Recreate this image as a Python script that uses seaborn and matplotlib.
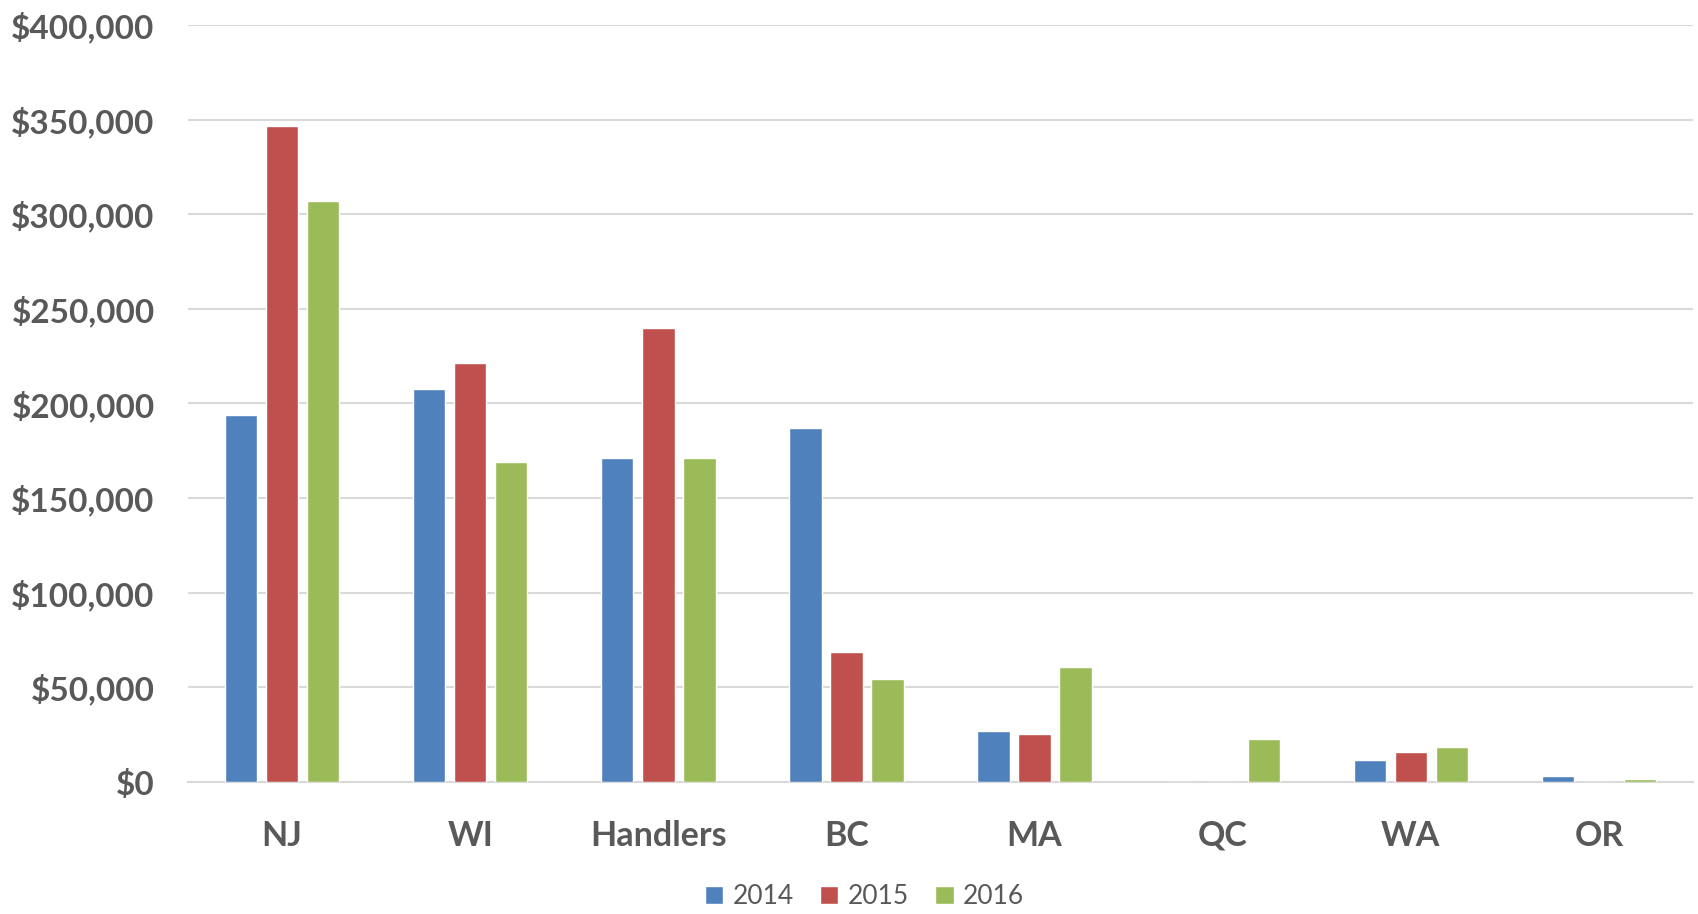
import matplotlib
matplotlib.use("Agg")
import matplotlib.pyplot as plt
import seaborn as sns
import pandas as pd
from matplotlib.ticker import FuncFormatter, MultipleLocator
from matplotlib.patches import Patch

categories = ["NJ", "WI", "Handlers", "BC", "MA", "QC", "WA", "OR"]
years = ["2014", "2015", "2016"]
values_2014 = [193700, 207400, 171300, 186800, 26700, 0, 11800, 3000]
values_2015 = [346800, 221500, 239800, 68900, 25100, 0, 15900, 0]
values_2016 = [306900, 169000, 171000, 54200, 60600, 22600, 18700, 1800]
colors = ["#4F81BD", "#C0504D", "#9BBB59"]

rows = []
for yr, vals in zip(years, [values_2014, values_2015, values_2016]):
    for c, v in zip(categories, vals):
        rows.append({"category": c, "year": yr, "value": v})
df = pd.DataFrame(rows)

sns.set_theme(style="white")
plt.rcParams["font.family"] = ["Lato", "DejaVu Sans"]

fig = plt.figure(figsize=(16.98, 9.14), dpi=100)
ax = fig.add_axes([188/1698, 1-782/914, (1693-188)/1698, (782-25)/914])

sns.barplot(data=df, x="category", y="value", hue="year", order=categories,
            hue_order=years, palette=colors, width=0.655, gap=0.21,
            saturation=1, ax=ax, legend=False, zorder=3)

ax.set_ylim(0, 400000)
ax.set_xlim(-0.5, len(categories) - 0.5)
ax.yaxis.set_major_locator(MultipleLocator(50000))
ax.yaxis.set_major_formatter(FuncFormatter(lambda v, p: f"${v:,.0f}"))
ax.grid(axis="y", color="#D9D9D9", linewidth=1.5, zorder=0)
ax.set_axisbelow(True)
for s in ["top", "right", "left"]:
    ax.spines[s].set_visible(False)
ax.spines["bottom"].set_color("#D9D9D9")
ax.spines["bottom"].set_linewidth(1.5)
ax.set_xlabel("")
ax.set_ylabel("")
ax.tick_params(axis="y", length=0, pad=24, labelsize=24, labelcolor="#595959")
ax.tick_params(axis="x", length=0, pad=27, labelsize=24.5, labelcolor="#595959")
for lbl in ax.get_yticklabels() + ax.get_xticklabels():
    lbl.set_fontweight("bold")

handles = [Patch(facecolor=c, label=y) for c, y in zip(colors, years)]
fig.legend(handles=handles, loc="center", bbox_to_anchor=(0.509, 0.019),
           ncol=3, frameon=False, fontsize=19, handlelength=0.7,
           handleheight=0.7, handletextpad=0.35, columnspacing=1.0,
           labelcolor="#595959")

fig.savefig("out.png", dpi=100)
